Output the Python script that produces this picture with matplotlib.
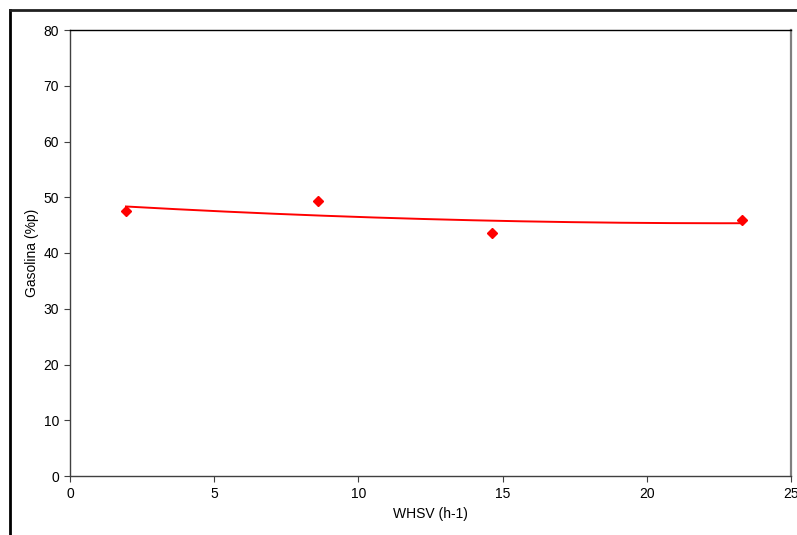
import numpy as np
import matplotlib.pyplot as plt
from matplotlib.lines import Line2D

plt.rcParams['font.family'] = ['Liberation Sans', 'DejaVu Sans']

# WHSV runs and measured gasoline yield
whsv = [1.94, 8.6, 14.64, 23.3]
gasolina = [47.5, 49.3, 43.5, 45.9]

x_ticks = [0, 5, 10, 15, 20, 25]
y_ticks = [0, 10, 20, 30, 40, 50, 60, 70, 80]

W, H = 797, 535
fig = plt.figure(figsize=(W / 100, H / 100), dpi=100)
ax = fig.add_axes([70 / W, 1 - 476 / H, (791 - 70) / W, (476 - 30) / H])

# second order trend line through the points
coef = np.polyfit(whsv, gasolina, 2)
xs = np.linspace(min(whsv), max(whsv), 200)
ax.plot(xs, np.polyval(coef, xs), color='#ff0000', lw=1.4, zorder=2)
ax.plot(whsv, gasolina, linestyle='none', marker='D', color='#ff0000',
        markersize=5, zorder=3)

ax.set_xlim(0, 25)
ax.set_ylim(0, 80)
ax.set_xticks(x_ticks)
ax.set_yticks(y_ticks)
ax.tick_params(direction='out', length=4, width=0.8, labelsize=10,
               color='#404040', pad=4)
ax.set_xlabel('WHSV (h-1)', fontsize=10, labelpad=4)
ax.set_ylabel('Gasolina (%p)', fontsize=10, labelpad=3)

for side in ['left', 'bottom']:
    ax.spines[side].set_color('#404040')
    ax.spines[side].set_linewidth(1.0)
ax.spines['top'].set_color('black')
ax.spines['top'].set_linewidth(1.0)
ax.spines['right'].set_color('#808080')
ax.spines['right'].set_linewidth(1.6)

# outer chart frame (only left and top edges fall inside the image)
to_fig = fig.transFigure.inverted()
(x0, y0) = to_fig.transform((10, H - 10))
(x1, y1) = to_fig.transform((W, 0))
fig.add_artist(Line2D([x0, x0], [y1, y0], color='black', lw=2, transform=fig.transFigure))
fig.add_artist(Line2D([x0, x1], [y0, y0], color='#202020', lw=2, transform=fig.transFigure))

fig.savefig('out.png', dpi=100)
